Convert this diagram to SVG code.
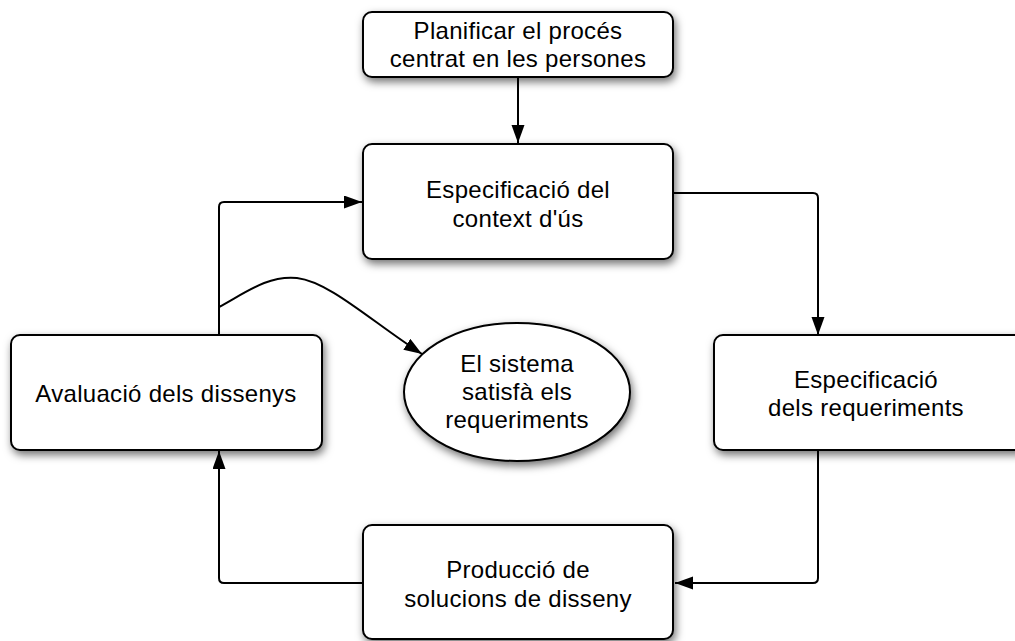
<svg xmlns="http://www.w3.org/2000/svg" width="1015" height="641" viewBox="0 0 1015 641">
  <style>
    .box { fill: #ffffff; stroke: #000000; stroke-width: 2; filter: url(#shadow); }
    .lbl { font-family: "Liberation Sans", Arial, sans-serif; font-size: 24px; letter-spacing: 0.3px; fill: #000000; text-anchor: middle; }
    .wire { fill: none; stroke: #000000; stroke-width: 2; stroke-linejoin: round; }
    .arrow { marker-end: url(#head); }
  </style>
  <defs>
    <filter id="shadow" x="-10%" y="-20%" width="130%" height="150%">
      <feDropShadow dx="2" dy="4" stdDeviation="4" flood-color="#000000" flood-opacity="0.55"/>
    </filter>
    <marker id="head" markerUnits="userSpaceOnUse" markerWidth="19" markerHeight="14" refX="18" refY="6.5" orient="auto">
      <path d="M0,0 L18,6.5 L0,13 Z" fill="#000000"/>
    </marker>
  </defs>
  <rect width="1015" height="641" fill="#ffffff"/>

  <!-- connectors -->
  <g id="connectors">
    <path class="wire arrow" d="M518,77 L518,143"/>
    <path class="wire arrow" d="M673,193 L813,193 Q818,193 818,198 L818,335"/>
    <path class="wire arrow" d="M818,450 L818,578 Q818,583 813,583 L675,583"/>
    <path class="wire arrow" d="M363,583 L224,583 Q219,583 219,578 L219,451"/>
    <path class="wire arrow" d="M219,335 L219,207 Q219,202 224,202 L362,202"/>
    <path class="wire arrow" d="M219,307 C245,293 268,275 297,278 C330,282 372,322 422,354"/>
  </g>

  <g id="plan">
    <rect class="box" x="363" y="12" width="310" height="65" rx="9"/>
    <text class="lbl" x="518" y="39">Planificar el procés</text>
    <text class="lbl" x="518" y="67">centrat en les persones</text>
  </g>

  <g id="context">
    <rect class="box" x="363" y="144" width="310" height="115" rx="9"/>
    <text class="lbl" x="518" y="198">Especificació del</text>
    <text class="lbl" x="518" y="227">context d'ús</text>
  </g>

  <g id="requirements">
    <rect class="box" x="714" y="335" width="312" height="115" rx="9"/>
    <text class="lbl" x="866" y="388">Especificació</text>
    <text class="lbl" x="866" y="416">dels requeriments</text>
  </g>

  <g id="production">
    <rect class="box" x="363" y="525" width="310" height="114" rx="9"/>
    <text class="lbl" x="518" y="578">Producció de</text>
    <text class="lbl" x="518" y="607">solucions de disseny</text>
  </g>

  <g id="evaluation">
    <rect class="box" x="11" y="335" width="311" height="115" rx="9"/>
    <text class="lbl" x="166" y="402">Avaluació dels dissenys</text>
  </g>

  <g id="satisfied">
    <ellipse class="box" cx="517" cy="392" rx="113" ry="69"/>
    <text class="lbl" x="517" y="372">El sistema</text>
    <text class="lbl" x="517" y="400">satisfà els</text>
    <text class="lbl" x="517" y="428">requeriments</text>
  </g>
</svg>
